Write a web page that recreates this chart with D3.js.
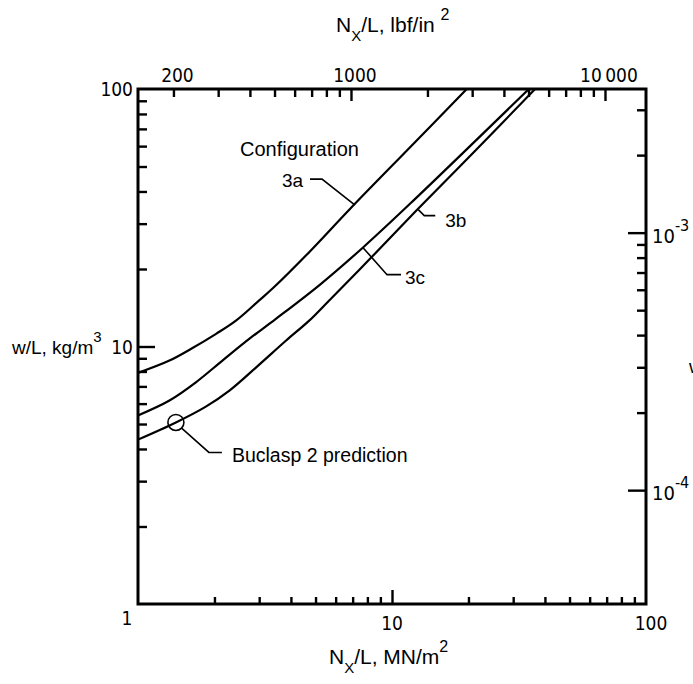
<!DOCTYPE html>
<html><head><meta charset="utf-8">
<script src="https://cdn.jsdelivr.net/npm/d3@7"></script>
<style>
body{margin:0;background:#fff}
svg{display:block}
text{font-family:"Liberation Sans",Arial,sans-serif;fill:#000}
.num{font-family:"Liberation Sans Narrow","DejaVu Sans Condensed","Liberation Sans",sans-serif}
</style>
</head><body>
<svg id="c" width="693" height="684"></svg>
<script>
// ---- data (N_x/L in MN/m^2, w/L in kg/m^3) ----
const nx3a = [1.0, 1.33, 1.62, 2.03, 2.43, 3.0, 3.41, 4.75, 6.83, 12.1, 19.7];
const w3a  = [7.9, 8.82, 9.8, 11.2, 12.6, 15.1, 16.9, 23.4, 34.2, 61.0, 100];
const nx3c = [1.0, 1.33, 1.69, 2.15, 2.74, 3.49, 5.21, 7.71, 11.8, 34.6];
const w3c  = [5.4, 6.17, 7.26, 8.82, 10.7, 12.8, 17.4, 24.3, 35.9, 100];
const nx3b = [1.0, 1.41, 1.85, 2.29, 2.92, 3.83, 4.72, 5.66, 8.19, 12.5, 21.5, 36.6];
const w3b  = [4.35, 5.07, 5.84, 6.74, 8.30, 10.55, 12.6, 15.1, 21.9, 33.8, 58.2, 100];
const bucNx = 1.41, bucW = 5.07;

const bottomMinor = [2,3,4,5,6,7,8,9,20,30,40,50,60,70,80,90];
const bottomMajor = [10];
const bottomLabels = ["10","100"], bottomLabelVals = [10,100];
const leftMinor = [2,3,4,5,6,7,8,9,20,30,40,50,60,70,80,90];
const leftMajor = [10];
const leftLabels = ["100","10","1"], leftLabelVals = [100,10,1];
const topMinor = [200,300,400,500,600,700,800,900,2000,3000,4000,5000,6000,7000,8000,9000];
const topMajor = [1000,10000];
const topLabels = ["200","1000","10\u2009000"], topLabelVals = [200,1000,10000];
const rightMinor = [2e-4,3e-4,4e-4,5e-4,6e-4,7e-4,8e-4,9e-4,2e-3,3e-3];
const rightMajor = [1e-4,1e-3];
const rightExp = ["-4","-3"];

const PSI_PER_MN = 145.038;        // lbf/in^2 per MN/m^2
const LBIN_PER_KGM = 1/27679.9;    // lbm/in^3 per kg/m^3

const svg = d3.select("#c");
const L=138, R=646, T=89, B=604;
const x = d3.scaleLog().domain([1,100]).range([L,R]);
const y = d3.scaleLog().domain([1,100]).range([B,T]);
const xTop = d3.scaleLog().domain([PSI_PER_MN, 100*PSI_PER_MN]).range([L,R]);
const yR = d3.scaleLog().domain([LBIN_PER_KGM, 100*LBIN_PER_KGM]).range([B,T]);

function ax(gen, transform, vals, size){
  const g = svg.append("g").attr("transform", transform)
    .call(gen.tickValues(vals).tickSize(size).tickFormat(""));
  g.select(".domain").remove();
  g.selectAll("line").attr("stroke","#000").attr("stroke-width",2.4);
}
ax(d3.axisBottom(x), `translate(0,${B})`, bottomMinor, -7);
ax(d3.axisBottom(x), `translate(0,${B})`, bottomMajor, -14);
ax(d3.axisLeft(y), `translate(${L},0)`, leftMinor, -9);
ax(d3.axisLeft(y), `translate(${L},0)`, leftMajor, -17);
ax(d3.axisTop(xTop), `translate(0,${T})`, topMinor, -8);
ax(d3.axisTop(xTop), `translate(0,${T})`, topMajor, -12);
ax(d3.axisRight(yR), `translate(${R},0)`, rightMinor, -9);
ax(d3.axisRight(yR), `translate(${R},0)`, rightMajor, -18);

svg.append("rect").attr("x",L).attr("y",T).attr("width",R-L).attr("height",B-T)
  .attr("fill","none").attr("stroke","#000").attr("stroke-width",3);

// curves
svg.append("clipPath").attr("id","clip").append("rect")
  .attr("x",L).attr("y",T).attr("width",R-L).attr("height",B-T);
const line = d3.line().x(d=>x(d[0])).y(d=>y(d[1])).curve(d3.curveCatmullRom.alpha(0.5));
[[nx3a,w3a],[nx3c,w3c],[nx3b,w3b]].forEach(([nx,w])=>{
  svg.append("path").attr("d", line(nx.map((v,i)=>[v,w[i]])))
    .attr("fill","none").attr("stroke","#000").attr("stroke-width",2.2)
    .attr("clip-path","url(#clip)");
});

// tick labels
bottomLabelVals.forEach((v,i)=>{
  svg.append("text").attr("class","num").attr("x",x(v)+(v===100?5:0)).attr("y",630)
    .attr("text-anchor","middle").attr("font-size",19).text(bottomLabels[i]);
});
leftLabelVals.forEach((v,i)=>{
  if(v===1){
    svg.append("text").attr("class","num").attr("x",x(1)-11).attr("y",625)
      .attr("text-anchor","middle").attr("font-size",19).text(leftLabels[i]);
  } else {
    svg.append("text").attr("class","num").attr("x",L-5).attr("y",y(v)+7)
      .attr("text-anchor","end").attr("font-size",19).text(leftLabels[i]);
  }
});
topLabelVals.forEach((v,i)=>{
  svg.append("text").attr("class","num").attr("x",xTop(v)+4).attr("y",T-7)
    .attr("text-anchor","middle").attr("font-size",19).text(topLabels[i]);
});
rightMajor.forEach((v,i)=>{
  const t = svg.append("text").attr("class","num").attr("x",R+6).attr("y",yR(v)+10).attr("font-size",20);
  t.append("tspan").text("10");
  t.append("tspan").attr("dy",-12).attr("font-size",16).text(rightExp[i]);
});

// axis titles
function subsup(xp, yp, fs, parts){
  const t = svg.append("text").attr("x",xp).attr("y",yp).attr("font-size",fs);
  parts.forEach(p=>{ const s=t.append("tspan").text(p.t); if(p.dy) s.attr("dy",p.dy); if(p.fs) s.attr("font-size",p.fs); });
  return t;
}
subsup(336, 32, 21, [{t:"N"},{t:"X",dy:9,fs:15},{t:"/L, lbf/in ",dy:-9},{t:"2",dy:-12,fs:16}]);
subsup(329, 664, 21, [{t:"N"},{t:"X",dy:9,fs:15},{t:"/L, MN/m",dy:-9},{t:"2",dy:-12,fs:16}]);
subsup(12, 354, 19, [{t:"w/L, kg/m"},{t:"3",dy:-12,fs:15}]);
subsup(689, 373, 19, [{t:"w/L, lbm/in"},{t:"3",dy:-12,fs:15}]);

// annotations
const thin = {stroke:"#000","stroke-width":1.6,fill:"none"};
function poly(pts){ const p=svg.append("path").attr("d", d3.line()(pts)); Object.entries(thin).forEach(([k,v])=>p.attr(k,v)); }
// 3a
const a3a = [x(7.15), y(35.4)];
poly([a3a,[a3a[0]-33,a3a[1]-26],[a3a[0]-45,a3a[1]-26]]);
svg.append("text").attr("x",a3a[0]-73).attr("y",a3a[1]-18).attr("font-size",19).text("3a");
svg.append("text").attr("x",a3a[0]-115).attr("y",a3a[1]-49).attr("font-size",20).text("Configuration");
// 3b
const a3b = [x(12.69), y(34.0)];
poly([a3b,[a3b[0]+6,a3b[1]+6],[a3b[0]+17,a3b[1]+6]]);
svg.append("text").attr("x",a3b[0]+27).attr("y",a3b[1]+17).attr("font-size",19).text("3b");
// 3c
const a3c = [x(7.69), y(24.2)];
poly([a3c,[a3c[0]+24,a3c[1]+27],[a3c[0]+38,a3c[1]+27]]);
svg.append("text").attr("x",a3c[0]+42).attr("y",a3c[1]+36).attr("font-size",19).text("3c");
// Buclasp
const bc = [x(bucNx), y(bucW)];
svg.append("circle").attr("cx",bc[0]).attr("cy",bc[1]).attr("r",8).attr("fill","none").attr("stroke","#000").attr("stroke-width",1.6);
poly([[bc[0]+6,bc[1]+6],[bc[0]+33,bc[1]+30],[bc[0]+46,bc[1]+30]]);
svg.append("text").attr("x",bc[0]+56).attr("y",bc[1]+40).attr("font-size",19.5).text("Buclasp 2 prediction");
</script>
</body></html>
